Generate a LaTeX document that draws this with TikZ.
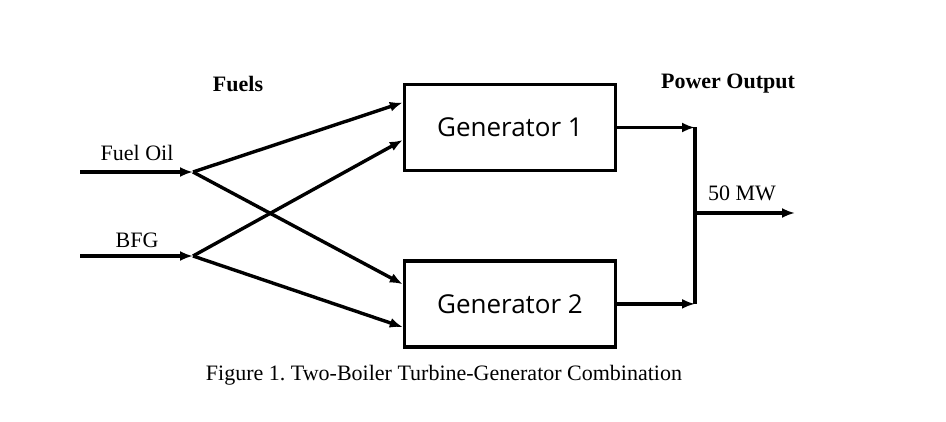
\documentclass[tikz,border=0pt]{standalone}
\usepackage{fontspec}
\setmainfont{Liberation Serif}
\newfontfamily\boxfont{Open Sans}
\usetikzlibrary{arrows.meta,positioning,calc}

\begin{document}
\begin{tikzpicture}[x=1pt,y=-1pt,
                    line width=3.4pt,>={Latex[length=13pt,width=10pt]},
                    gen node/.style={rectangle,draw,minimum width=211pt,minimum height=86pt,
                                     font=\boxfont\fontsize{26}{30}\selectfont},
                    label node/.style={font=\fontsize{22}{26}\selectfont,inner sep=0pt}]
  \useasboundingbox (0,0) rectangle (946,422);

  %Generators%
  \node[gen node] (g1) at (510,127.5) {Generator 1};
  \node[gen node] (g2) [below=87pt of g1] {Generator 2};

  %Fuel inputs%
  \coordinate (oil start) at (80,172);
  \coordinate (oil) at (193,172);
  \coordinate (bfg start) at (80,256);
  \coordinate (bfg) at (193,256);
  \node[label node] (oil label) at (137,153) {Fuel Oil};
  \node[label node] (bfg label) at (137,240) {BFG};
  \node[label node,font=\bfseries\fontsize{22}{26}\selectfont] (fuels) at (238,84) {Fuels};

  %Power output%
  \coordinate (bus) at (695,213);
  \coordinate (out) at (795,213);
  \node[label node] (mw) at (742,193) {50 MW};
  \node[label node,font=\bfseries\fontsize{22}{26}\selectfont] (power) at (728,84) {Power Output};

  \node[label node] (caption) at (444,375) {Figure 1.\ Two-Boiler Turbine-Generator Combination};

  \draw[->] (oil start) -- (oil);
  \draw[->] (bfg start) -- (bfg);
  \draw[->] (oil) -- ($(g1.north west)!0.22!(g1.south west)$);
  \draw[->] (oil) -- ($(g2.north west)!0.28!(g2.south west)$);
  \draw[->] (bfg) -- ($(g1.north west)!0.64!(g1.south west)$);
  \draw[->] (bfg) -- ($(g2.north west)!0.76!(g2.south west)$);

  \draw[->] (g1.east) -- (g1.east -| bus);
  \draw[->] (g2.east) -- (g2.east -| bus);
  \draw (g1.east -| bus) -- (g2.east -| bus);
  \draw[->] (bus) -- (out);
\end{tikzpicture}
\end{document}
